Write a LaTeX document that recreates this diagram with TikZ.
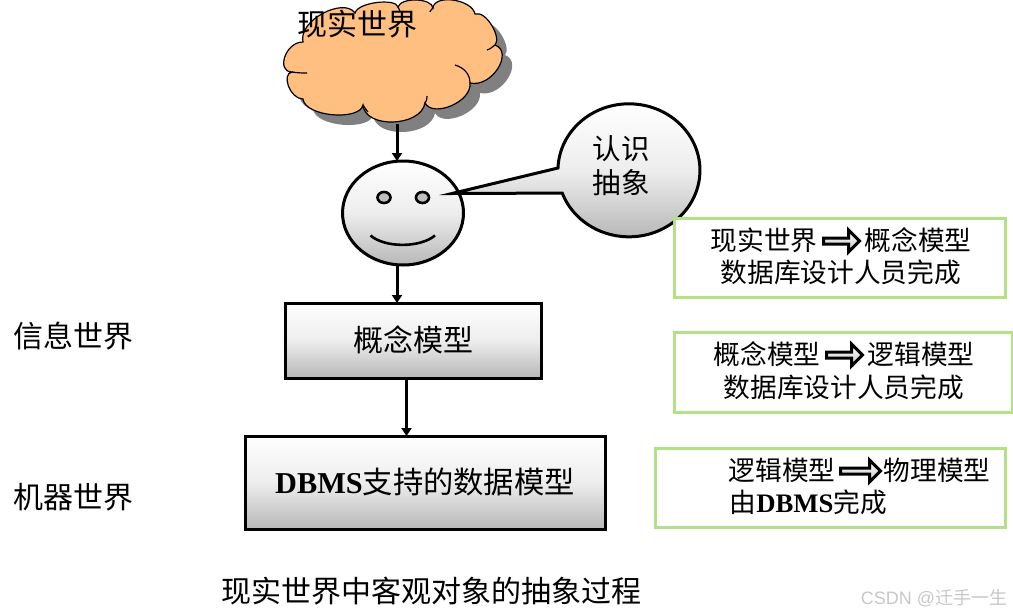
\documentclass[tikz,border=0pt]{standalone}
\usepackage{fontspec}
\usetikzlibrary{shapes.geometric,shapes.arrows,arrows.meta}
\setmainfont{Noto Sans CJK SC}
\newfontfamily\latf{Liberation Serif}
\newfontfamily\wmf{Liberation Sans}
\definecolor{cloudfill}{HTML}{FFBF80}
\definecolor{boxgreen}{HTML}{B2E285}
\newcommand{\fs}[1]{\fontsize{#1}{#1}\selectfont}
\newcommand{\dbms}{{\latf\bfseries DBMS}}
\tikzset{
  x=1pt,y=1pt,
  gradfill/.style={top color=white,bottom color=black!28,middle color=black!7},
  thick3/.style={draw=black,line width=3pt},
  flow/.style={draw=black,line width=3pt,-{Triangle[length=8pt,width=10pt]}},
  modelbox/.style={thick3,gradfill,rectangle,inner sep=0pt,outer sep=0pt,anchor=north west},
  notebox/.style={draw=boxgreen,line width=3pt,fill=white,rectangle,inner sep=0pt,outer sep=0pt,anchor=north west},
  big/.style={inner sep=0pt,font=\fs{30}},
  notetxt/.style={inner sep=0pt,font=\fs{26.7},anchor=west},
  eye/.style={ellipse,draw=black,line width=2.6pt,fill=black!25,minimum width=13pt,minimum height=11pt,inner sep=0pt},
  blockarrow/.style={single arrow,draw=black,line width=3pt,top color=white,bottom color=black!22,
    minimum height=36pt,minimum width=22pt,single arrow head extend=4pt,single arrow tip angle=90,inner sep=0pt,outer sep=0pt,anchor=center},
}
\begin{document}
\begin{tikzpicture}
\useasboundingbox (0,0) rectangle (1013,-616);
% cloud
\def\cloudpath{
  (303,-42) .. controls (285,-42) and (276,-72) .. (292,-72)
  .. controls (281,-74) and (290,-99) .. (303,-99)
  .. controls (305,-117) and (360,-121) .. (363,-105)
  .. controls (365,-129) and (421,-127) .. (425,-103)
  .. controls (433,-118) and (472,-102) .. (470,-83)
  .. controls (492,-88) and (514,-52) .. (495,-45)
  .. controls (502,-38) and (486,-10) .. (475,-14)
  .. controls (472,1) and (434,6) .. (433,-8)
  .. controls (432,2) and (401,3) .. (398,-7)
  .. controls (396,2) and (358,-2) .. (355,-13)
  .. controls (344,3) and (298,-20) .. (303,-42) -- cycle}
\fill[black!50,shift={(10,-10)}] \cloudpath;
\draw[black,fill=cloudfill,line width=1.2pt] \cloudpath;
\draw[black,line width=1.2pt] (292,-72) .. controls (298,-73) and (303,-73) .. (307,-73)
  (363,-105) .. controls (365,-108) and (367,-111) .. (368,-112)
  (425,-103) .. controls (427,-100) and (427,-98) .. (427,-96)
  (470,-83) .. controls (470,-75) and (465,-68) .. (455,-65)
  (495,-45) .. controls (490,-49) and (488,-50) .. (487,-50)
  (433,-8) .. controls (431,-10) and (430,-11) .. (430,-12)
  (398,-7) .. controls (399,-9) and (400,-11) .. (400,-12);
\node[big] (t1) at (357,-24) {现实世界};
% face
\node[ellipse,thick3,gradfill,minimum width=121pt,minimum height=104pt,inner sep=0pt,outer sep=0pt] (face) at (403,-213) {};
\node[eye] (eyel) at (384,-197.5) {};
\node[eye] (eyer) at (422.5,-197.5) {};
\draw[black,line width=2.6pt] (370.5,-235.5) .. controls (385,-248) and (420,-248) .. (435,-235.5);
% callout
\path[thick3,gradfill] (558,-168) arc[start angle=178,end angle=-160,x radius=71,y radius=66.5] -- (452,-193.5) -- cycle;
\node[inner sep=0pt,font=\fs{28.5},align=center] (t2) at (621,-165.5) {认\hspace{0pt}识\\[6pt]抽\hspace{0pt}象};
% model boxes
\node[modelbox,minimum width=256pt,minimum height=75pt] (concept) at (285,-303) {};
\node[big] (t4) at (413,-340) {概念模型};
\node[modelbox,minimum width=360pt,minimum height=93pt] (dbmsbox) at (245,-436) {};
\node[inner sep=0pt,font=\fs{30.3}] (t3) at (425,-482) {\dbms 支持的数据模型};
% connectors
\coordinate (c1) at (397,-124);
\draw[flow] (c1) -- (397,-161);
\coordinate (f1) at (397,-265);
\draw[flow] (f1) -- (f1 |- concept.north);
\coordinate (c2) at (406.5,-378);
\draw[flow] (c2) -- (c2 |- dbmsbox.north);
% notes
\node[notebox,minimum width=331pt,minimum height=79pt] (n1) at (674,-218) {};
\node[notetxt] at (710.5,-240) {现实世界};
\node[blockarrow] (a1) at (840,-241) {};
\node[notetxt] at (864.5,-240) {概念模型};
\node[notetxt] at (720.5,-272) {数据库设计人员完成};
\node[notebox,minimum width=338pt,minimum height=80pt] (n2) at (674,-332) {};
\node[notetxt] at (713.5,-354) {概念模型};
\node[blockarrow] (a2) at (843,-355) {};
\node[notetxt] at (867.5,-354) {逻辑模型};
\node[notetxt] at (723.5,-387) {数据库设计人员完成};
\node[notebox,minimum width=350pt,minimum height=79pt] (n3) at (655,-448) {};
\node[notetxt] at (728.5,-470) {逻辑模型};
\node[blockarrow,minimum height=40pt] (a3) at (859,-471) {};
\node[notetxt] at (883.5,-470) {物理模型};
\node[notetxt] at (729.5,-502) {由\dbms 完成};
% labels
\node[big] (l1) at (73,-336) {信息世界};
\node[big] (l2) at (73,-497) {机器世界};
\node[big] (l3) at (431.5,-591) {现实世界中客观对象的抽象过程};
\node[inner sep=0pt,text=black!22,font=\fs{18}] (wm) at (934,-598) {{\wmf CSDN @}迁手一生};
\end{tikzpicture}
\end{document}
